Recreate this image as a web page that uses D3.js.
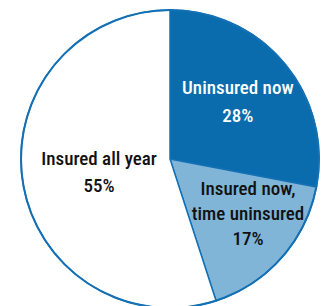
<!DOCTYPE html>
<html>
<head>
<meta charset="utf-8">
<script src="https://cdn.jsdelivr.net/npm/d3@7"></script>
<style>
  html, body { margin: 0; padding: 0; background: #fff; }
  svg { display: block; }
  text { font-family: "Roboto Condensed", "Liberation Sans Narrow", "Arial Narrow", sans-serif; font-size: 19px; font-weight: 500; }
</style>
</head>
<body>
<div id="chart"></div>
<script>
// slice data, clockwise from 12 o'clock
var labels = [["Uninsured now"], ["Insured now,", "time uninsured"], ["Insured all year"]];
var values = [28, 17, 55];
var colors = ["#0a6cad", "#80b5d8", "#ffffff"];
var textColors = ["#ffffff", "#111111", "#111111"];

var width = 327, height = 306;
var cx = 170, cy = 159, radius = 149;

// small nudges for the labels, off the centroid
var nudge = [[0, -1], [12, -3], [16, 0]];

var svg = d3.select("#chart").append("svg")
    .attr("width", width)
    .attr("height", height);

var g = svg.append("g").attr("transform", "translate(" + cx + "," + cy + ")");

var pie = d3.pie().sort(null).value(function (d) { return d; });
var arcs = pie(values);

var arc = d3.arc().innerRadius(0).outerRadius(radius);
var labelArc = d3.arc().innerRadius(88).outerRadius(88);

g.selectAll("path.slice")
    .data(arcs)
    .enter()
    .append("path")
    .attr("class", "slice")
    .attr("d", arc)
    .style("fill", function (d, i) { return colors[i]; })
    .style("stroke", "#1470b4")
    .style("stroke-width", 1.5);

// outline round the whole pie
g.append("circle")
    .attr("r", radius)
    .style("fill", "none")
    .style("stroke", "#1470b4")
    .style("stroke-width", 2);

var lineH = 25;
var lbl = g.selectAll("text.lbl")
    .data(arcs)
    .enter()
    .append("text")
    .attr("class", "lbl")
    .attr("text-anchor", "middle")
    .style("fill", function (d, i) { return textColors[i]; })
    .attr("transform", function (d, i) {
        var c = labelArc.centroid(d);
        return "translate(" + (c[0] + nudge[i][0]) + "," + (c[1] + nudge[i][1]) + ")";
    });

lbl.each(function (d, i) {
    var lines = labels[i].concat([values[i] + "%"]);
    var lh = i == 0 ? 28 : (i == 2 ? 27 : lineH);
    var y0 = -(lines.length - 1) * lh / 2 + 6;
    var t = d3.select(this);
    lines.forEach(function (s, k) {
        t.append("tspan")
            .attr("x", 0)
            .attr("y", y0 + k * lh)
            .text(s);
    });
});
</script>
</body>
</html>
